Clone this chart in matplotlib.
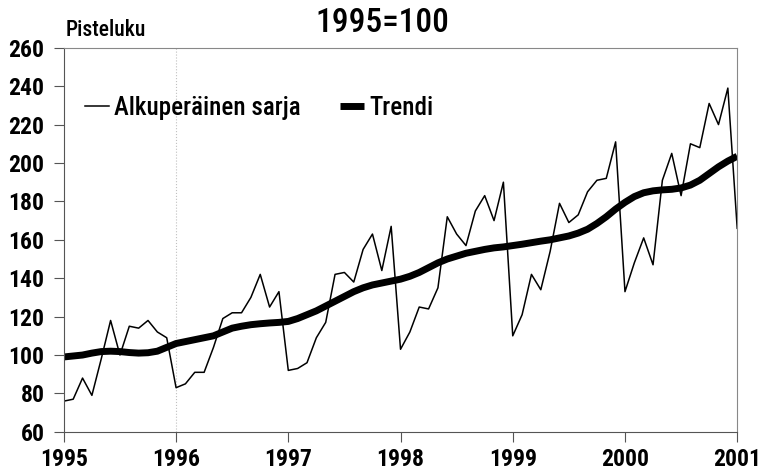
import numpy as np
import matplotlib.pyplot as plt

# monthly index, Jan 1995 .. Jan 2001
original = [76, 77, 88, 79, 98, 118, 100, 115, 114, 118, 112, 109,
            83, 85, 91, 91, 104, 119, 122, 122, 130, 142, 125, 133,
            92, 93, 96, 109, 117, 142, 143, 138, 155, 163, 144, 167,
            103, 112, 125, 124, 135, 172, 163, 157, 175, 183, 170, 190,
            110, 121, 142, 134, 154, 179, 169, 173, 185, 191, 192, 211,
            133, 148, 161, 147, 191, 205, 183, 210, 208, 231, 220, 239,
            166]
trend = [99, 99.5, 100, 101, 101.8, 102, 101.8, 101.3, 101, 101.2, 102, 104,
         106, 107, 108, 109, 110, 112, 114, 115, 115.8, 116.3, 116.7, 117,
         117.5, 119, 121, 123, 125.5, 128, 130.5, 133, 135, 136.5, 137.5, 138.5,
         139.5, 141, 143, 145.5, 148, 150, 151.5, 153, 154, 155, 155.8, 156.3,
         157, 157.7, 158.5, 159.3, 160, 161, 162, 163.5, 165.5, 168.5, 172, 176,
         179.5, 182.5, 184.5, 185.5, 186, 186.3, 187, 188.5, 191, 194.5, 198, 201,
         203.5]
years = [1995, 1996, 1997, 1998, 1999, 2000, 2001]
yticks = list(range(60, 261, 20))

x = 1995 + np.arange(len(original)) / 12

plt.rcParams['font.family'] = ['Roboto Condensed', 'DejaVu Sans']

fig = plt.figure(figsize=(7.6, 4.73), dpi=100)
ax = fig.add_axes([0.084, 0.087, 0.886, 0.812])

ax.axvline(1996, color='#c0c0c0', lw=0.8, ls=':', zorder=0)
ax.plot(x, original, color='black', lw=1.1, label='Alkuperäinen sarja')
ax.plot(x, trend, color='black', lw=5, solid_capstyle='butt', label='Trendi')

ax.set_xlim(1995, 2001)
ax.set_ylim(60, 260)
ax.set_xticks(years)
ax.set_yticks(yticks)
ax.tick_params(axis='both', direction='out', length=7, width=0.8,
               color='#555555', labelsize=17)
for lab in ax.get_xticklabels() + ax.get_yticklabels():
    lab.set_fontweight('bold')
ax.tick_params(axis='x', pad=4.5)
ax.tick_params(axis='y', pad=7)
for s in ax.spines.values():
    s.set_color('#555555')
    s.set_linewidth(0.8)
for s in ['top', 'right']:
    ax.spines[s].set_color('#888888')

leg = fig.legend(*ax.get_legend_handles_labels(), loc='center left',
                 bbox_to_anchor=(0.112, 0.772), ncol=2, frameon=False,
                 handlelength=0.95, handletextpad=0.2, columnspacing=1.6,
                 borderpad=0, borderaxespad=0, prop={'size': 18, 'weight': 500})

fig.text(0.086, 0.937, 'Pisteluku', fontsize=15.5, fontweight=500,
         ha='left', va='center')
fig.text(0.503, 0.952, '1995=100', fontsize=24, ha='center', va='center',
         fontweight=500)

fig.savefig('out.png', dpi=100)
